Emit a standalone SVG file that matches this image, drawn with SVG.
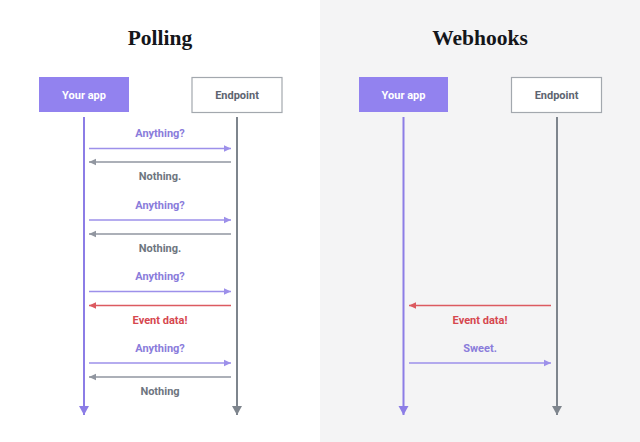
<svg xmlns="http://www.w3.org/2000/svg" width="640" height="442" viewBox="0 0 640 442">
<style>
.title{font-family:"Liberation Serif","DejaVu Serif",serif;font-weight:bold;font-size:21.5px;fill:#14161a;text-anchor:middle}
.lbl{font-family:Roboto,"Liberation Sans",sans-serif;font-weight:bold;font-size:11px;text-anchor:middle}
.box-app{fill:#9282ef}
.box-ep{fill:#ffffff;stroke:#a3a8ae;stroke-width:1.2}
.t-app{fill:#ffffff}
.t-ep{fill:#5d6470}
.life-app{stroke:#8c7de6;stroke-width:2}
.life-ep{stroke:#7e858d;stroke-width:2}
.m-req{stroke:#9d90ea;stroke-width:1.3}
.m-res{stroke:#9196a0;stroke-width:1.3}
.m-evt{stroke:#dc5a60;stroke-width:1.3}
.c-req{fill:#8a7cdb}
.c-res{fill:#6e7580}
.c-evt{fill:#d6474f}
</style>
<defs>
<marker id="ah-req" markerWidth="8" markerHeight="8" refX="7" refY="4" orient="auto" markerUnits="userSpaceOnUse"><path d="M0,0.8 L7,4 L0,7.2 Z" fill="#9d90ea"/></marker>
<marker id="ah-res" markerWidth="8" markerHeight="8" refX="7" refY="4" orient="auto" markerUnits="userSpaceOnUse"><path d="M0,0.8 L7,4 L0,7.2 Z" fill="#9196a0"/></marker>
<marker id="ah-evt" markerWidth="8" markerHeight="8" refX="7" refY="4" orient="auto" markerUnits="userSpaceOnUse"><path d="M0,0.8 L7,4 L0,7.2 Z" fill="#dc5a60"/></marker>
<marker id="ah-app" markerWidth="12" markerHeight="12" refX="9" refY="5" orient="auto" markerUnits="userSpaceOnUse"><path d="M0,0 L9,5 L0,10 Z" fill="#8c7de6"/></marker>
<marker id="ah-ep" markerWidth="12" markerHeight="12" refX="9" refY="5" orient="auto" markerUnits="userSpaceOnUse"><path d="M0,0 L9,5 L0,10 Z" fill="#7e858d"/></marker>
</defs>
<rect x="0" y="0" width="320" height="442" fill="#ffffff"/>
<rect x="320" y="0" width="320" height="442" fill="#f4f4f5"/>

<text class="title" x="160" y="45">Polling</text>
<text class="title" x="480" y="45">Webhooks</text>

<g id="polling-app">
<rect class="box-app" x="39" y="77" width="90" height="35"/>
<text class="lbl t-app" x="84" y="98.5">Your app</text>
</g>
<g id="polling-endpoint">
<rect class="box-ep" x="192" y="77.5" width="90" height="35"/>
<text class="lbl t-ep" x="237" y="98.5">Endpoint</text>
</g>
<g id="webhooks-app">
<rect class="box-app" x="359" y="77" width="89" height="35"/>
<text class="lbl t-app" x="403.5" y="98.5">Your app</text>
</g>
<g id="webhooks-endpoint">
<rect class="box-ep" x="511.5" y="77.5" width="90" height="35"/>
<text class="lbl t-ep" x="556.5" y="98.5">Endpoint</text>
</g>

<g id="connectors" fill="none">
<line class="life-app" x1="84" y1="117" x2="84" y2="415" marker-end="url(#ah-app)"/>
<line class="life-ep" x1="237" y1="117" x2="237" y2="415" marker-end="url(#ah-ep)"/>
<line class="life-app" x1="403.5" y1="117" x2="403.5" y2="415" marker-end="url(#ah-app)"/>
<line class="life-ep" x1="557" y1="117" x2="557" y2="415" marker-end="url(#ah-ep)"/>

<line class="m-req" x1="89" y1="148.5" x2="231" y2="148.5" marker-end="url(#ah-req)"/>
<line class="m-res" x1="231" y1="162" x2="89" y2="162" marker-end="url(#ah-res)"/>
<line class="m-req" x1="89" y1="220" x2="231" y2="220" marker-end="url(#ah-req)"/>
<line class="m-res" x1="231" y1="234" x2="89" y2="234" marker-end="url(#ah-res)"/>
<line class="m-req" x1="89" y1="291.5" x2="231" y2="291.5" marker-end="url(#ah-req)"/>
<line class="m-evt" x1="231" y1="305.5" x2="89" y2="305.5" marker-end="url(#ah-evt)"/>
<line class="m-req" x1="89" y1="363" x2="231" y2="363" marker-end="url(#ah-req)"/>
<line class="m-res" x1="231" y1="377" x2="89" y2="377" marker-end="url(#ah-res)"/>

<line class="m-evt" x1="551" y1="305.5" x2="409" y2="305.5" marker-end="url(#ah-evt)"/>
<line class="m-req" x1="409" y1="363" x2="551" y2="363" marker-end="url(#ah-req)"/>
</g>

<g id="labels">
<text class="lbl c-req" x="160" y="137">Anything?</text>
<text class="lbl c-res" x="160" y="180">Nothing.</text>
<text class="lbl c-req" x="160" y="208.5">Anything?</text>
<text class="lbl c-res" x="160" y="251.5">Nothing.</text>
<text class="lbl c-req" x="160" y="280">Anything?</text>
<text class="lbl c-evt" x="160" y="324">Event data!</text>
<text class="lbl c-req" x="160" y="352">Anything?</text>
<text class="lbl c-res" x="160" y="395">Nothing</text>
<text class="lbl c-evt" x="480" y="324">Event data!</text>
<text class="lbl c-req" x="480" y="352">Sweet.</text>
</g>
</svg>
